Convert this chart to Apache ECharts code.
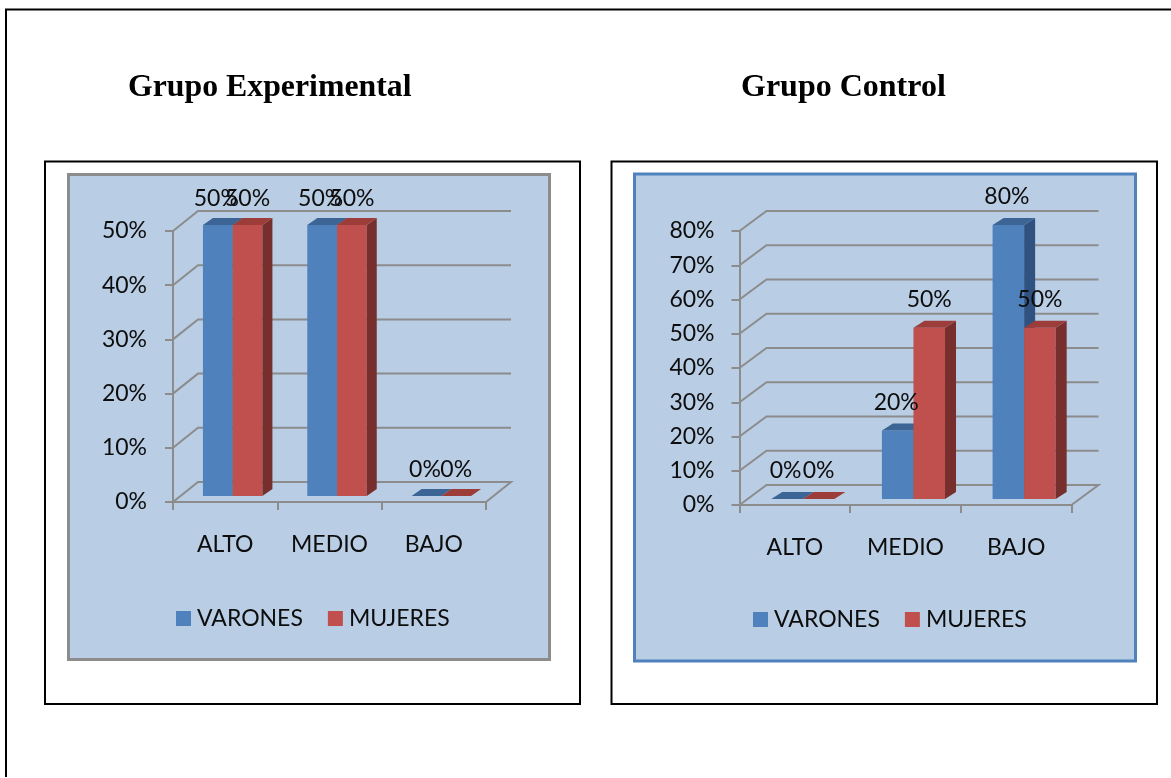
<!DOCTYPE html>
<html><head><meta charset="utf-8">
<style>html,body{margin:0;padding:0;background:#fff}#c{width:1171px;height:778px}</style>
<script src="https://cdn.jsdelivr.net/npm/echarts@6/dist/echarts.min.js"></script></head>
<body><div id="c"></div>
<script>
const categories = ['ALTO','MEDIO','BAJO'];
const seriesNames = ['VARONES','MUJERES'];
const expVarones = [50,50,0];
const expMujeres = [50,50,0];
const ctrlVarones = [0,20,80];
const ctrlMujeres = [0,50,50];
const expMax = 50;
const ctrlMax = 80;
const tickStep = 10;

const FONT = 'Lato, Carlito, "Open Sans", sans-serif';
const FS = 23;
const INK = '#0d0d0d', GRAY = '#8c8c8c', BG = '#b9cde5';
const FACE = [{front:'#4f81bd',top:'#3c6494',side:'#2f5280'},{front:'#c0504d',top:'#9c3d3a',side:'#772f2d'}];
const chart = echarts.init(document.getElementById('c'),null,{renderer:'canvas'});

function wallItem(depth){ return function(params,api){
  const r=params.coordSys, v=api.value(0), y=api.coord([0,v])[1];
  const pts=[[r.x,y],[r.x+depth.x,y-depth.y],[r.x+r.width+depth.x,y-depth.y]];
  if(v===0) pts.push([r.x+r.width,y]);
  return {type:'polyline',shape:{points:pts},style:{fill:null,stroke:GRAY,lineWidth:2}};
};}
function barGeom(si,d,api){
  const idx=api.value(0), v=api.value(1), band=api.size([1,0])[0];
  const c=api.coord([idx,v]), c0=api.coord([idx,0]);
  const w=band*d.barRatio, xc=c[0]+band*d.groupShift;
  const x0=xc+(si-1)*w;
  return {v,w,x0,x1:x0+w,yT:c[1]+d.front,yB:c0[1]+d.front};
}
function barItem(si,d){ return function(params,api){
  const {v,x0,x1,yT,yB}=barGeom(si,d,api), sx=d.sideX, sy=d.sideY, f=FACE[si];
  const kids=[];
  if(v>0){
    kids.push({type:'rect',shape:{x:x0,y:yT,width:x1-x0,height:yB-yT},style:{fill:f.front}});
    kids.push({type:'polygon',shape:{points:[[x1,yT],[x1+sx,yT-sy],[x1+sx,yB-sy],[x1,yB]]},style:{fill:f.side}});
  }
  kids.push({type:'polygon',shape:{points:[[x0,yT],[x0+sx,yT-sy],[x1+sx,yT-sy],[x1,yT]]},style:{fill:f.top}});
  return {type:'group',children:kids};
};}
function labelItem(si,d){ return function(params,api){
  const {v,x0,x1,yT}=barGeom(si,d,api);
  return {type:'text',style:{text:v+'%',x:(x0+x1)/2+(si?0:-1.5),y:yT-d.labelGap,align:'center',verticalAlign:'middle',fill:INK,font:FS+'px '+FONT}};
};}

const cfg=[
 {grid:{left:173,top:231,width:313,height:271},max:expMax,data:[expVarones,expMujeres],depth:{x:25,y:20},front:-6,barRatio:0.285,groupShift:0.072,sideX:10,sideY:7,labelGap:26,yMargin:26,xMargin:31,legendLeft:176,legendTop:607,titleSize:31.8},
 {grid:{left:739.5,top:231,width:332,height:274},max:ctrlMax,data:[ctrlVarones,ctrlMujeres],depth:{x:27,y:20},front:-6,barRatio:0.285,groupShift:0.072,sideX:11,sideY:7,labelGap:28,yMargin:25,xMargin:31,legendLeft:753,legendTop:608,titleSize:32}
];
const ticksFor=m=>{const a=[];for(let v=0;v<=m;v+=tickStep)a.push([v]);return a;};
const axisLine={show:true,lineStyle:{color:GRAY,width:2}};
const axisTick={show:true,length:8,lineStyle:{color:GRAY,width:2}};
const opt={animation:false,backgroundColor:'#fff',
 title:[
  {text:'Grupo Experimental',left:128,top:72,padding:0,textStyle:{fontFamily:'"Liberation Serif"',fontWeight:'bold',fontSize:cfg[0].titleSize,color:'#000'}},
  {text:'Grupo Control',left:741,top:72,padding:0,textStyle:{fontFamily:'"Liberation Serif"',fontWeight:'bold',fontSize:cfg[1].titleSize,color:'#000'}}
 ],
 graphic:[
  {type:'rect',z:-30,shape:{x:6,y:9.5,width:1175,height:767.5},style:{fill:'#fff',stroke:null}},
  {type:'polyline',z:-29,shape:{points:[[6,777],[6,9.5],[1171,9.5]]},style:{fill:null,stroke:'#000',lineWidth:2}},
  {type:'rect',z:-20,shape:{x:45,y:161.5,width:535,height:542.5},style:{fill:'#fff',stroke:'#000',lineWidth:2}},
  {type:'rect',z:-20,shape:{x:611.5,y:161.5,width:545.5,height:542.5},style:{fill:'#fff',stroke:'#000',lineWidth:2}},
  {type:'rect',z:-10,shape:{x:68.5,y:174.5,width:481,height:485},style:{fill:BG,stroke:GRAY,lineWidth:3}},
  {type:'rect',z:-10,shape:{x:634.5,y:174,width:501,height:487},style:{fill:BG,stroke:'#4f81bd',lineWidth:3}}
 ],
 grid:cfg.map(c=>c.grid),
 xAxis:cfg.map((c,i)=>({type:'category',gridIndex:i,data:categories,axisLine,axisTick,splitLine:{show:false},
   axisLabel:{interval:0,margin:c.xMargin,color:INK,fontSize:FS,fontFamily:FONT}})),
 yAxis:cfg.map((c,i)=>({type:'value',gridIndex:i,min:0,max:c.max,interval:tickStep,axisLine,axisTick,splitLine:{show:false},
   axisLabel:{margin:c.yMargin,color:INK,fontSize:FS,fontFamily:FONT,padding:[2,0,0,0],formatter:'{value}%'}})),
 legend:cfg.map(c=>({data:seriesNames,left:c.legendLeft,top:c.legendTop,padding:0,itemWidth:15,itemHeight:15,itemGap:25,icon:'rect',selectedMode:false,
   textStyle:{color:INK,fontSize:FS,fontFamily:FONT,padding:[0,0,0,1]}})),
 series:[]
};
cfg.forEach((c,i)=>{
  opt.series.push({type:'custom',name:'wall'+i,xAxisIndex:i,yAxisIndex:i,z:1,silent:true,clip:false,
    encode:{y:0},data:ticksFor(c.max),renderItem:wallItem(c.depth)});
  c.data.forEach((vals,si)=>{
    const data=vals.map((v,k)=>[k,v]);
    opt.series.push({type:'custom',name:seriesNames[si],xAxisIndex:i,yAxisIndex:i,z:2+si,clip:false,
      itemStyle:{color:FACE[si].front},encode:{x:0,y:1},data,renderItem:barItem(si,c)});
    opt.series.push({type:'custom',name:'label'+i+si,xAxisIndex:i,yAxisIndex:i,z:10,clip:false,silent:true,
      encode:{x:0,y:1},data,renderItem:labelItem(si,c)});
  });
});
chart.setOption(opt);
</script></body></html>
